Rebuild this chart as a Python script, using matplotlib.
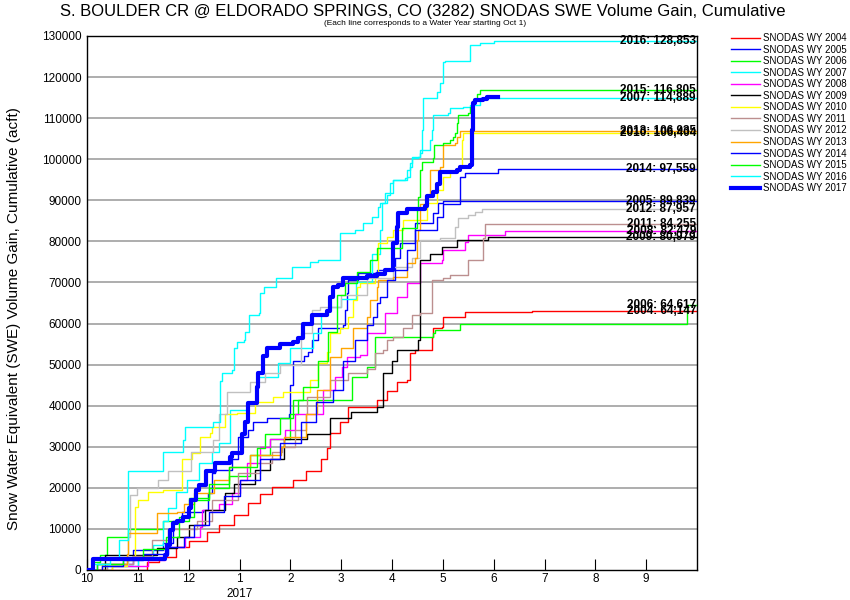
import matplotlib
matplotlib.use("Agg")
import matplotlib.pyplot as plt

plt.rcParams['font.family'] = ['Liberation Sans', 'DejaVu Sans']

# x = months since Oct 1 of the water year, y = cumulative SWE volume gain (acft)
MONTH_LABELS = ['10', '11', '12', '1', '2', '3', '4', '5', '6', '7', '8', '9']

wy2004_x = [0, 1.08, 1.18, 1.41, 1.75, 2.0, 2.36, 2.6, 2.9, 3.17, 3.4, 3.64, 4.05, 4.3, 4.6, 4.72, 4.78,
            4.98, 5.13, 5.71, 5.9, 6.10, 6.30, 6.35, 6.45, 6.75, 6.79, 6.81, 6.98, 7.00, 7.44, 8.75, 12]
wy2004_y = [0, 0, 2000, 3200, 5500, 7000, 9200, 11000, 13500, 16300, 18500, 20200, 21900, 24000, 27000,
            29700, 33400, 36000, 39700, 41400, 43500, 45800, 46200, 52800, 53500, 53500, 56700, 58900,
            59100, 61600, 62800, 63000, 63000]

wy2005_x = [0, 0.2, 0.9, 1.5, 1.69, 1.87, 2.28, 2.38, 2.46, 2.52, 2.85, 2.97, 3.17, 3.26, 3.54, 3.98, 4.0,
            4.05, 4.27, 4.35, 4.43, 4.54, 5.04, 5.08, 5.12, 5.14, 5.33, 5.7, 6.06, 6.16, 6.41, 6.45, 6.79,
            6.81, 6.91, 7.0, 12]
wy2005_y = [0, 1500, 4900, 6600, 12000, 14000, 14600, 18700, 23600, 24300, 27000, 32400, 34000, 36000,
            37000, 38000, 45000, 51000, 52000, 53000, 56000, 59000, 59700, 63300, 67400, 70600, 72300,
            73000, 76000, 79600, 79600, 84500, 84500, 87000, 89300, 89839, 89839]

wy2006_x = [0, 0.1, 0.25, 0.39, 0.81, 1.5, 2.0, 2.4, 2.8, 3.2, 3.6, 4.0, 4.15, 5.15, 5.22, 5.5, 5.67,
            6.8, 6.85, 7.34, 11.71, 11.8, 12]
wy2006_y = [0, 2000, 3600, 8000, 10000, 12000, 17500, 20000, 23000, 28000, 32000, 38000, 41400, 41400,
            47000, 49400, 56700, 57700, 58400, 59900, 59900, 64617, 64617]

wy2007_x = [0, 0.4, 1.0, 1.3, 1.5, 1.6, 1.75, 1.97, 2.2, 2.45, 2.6, 2.81, 3.15, 3.35, 3.75, 4.0, 4.45,
            4.6, 4.75, 5.0, 5.3, 5.6, 5.76, 5.80, 5.90, 5.96, 6.02, 6.26, 6.30, 6.35, 6.39, 6.51, 6.55,
            6.75, 6.79, 6.81, 7.10, 7.14, 7.40, 7.53, 7.73, 12]
wy2007_y = [0, 1000, 3000, 6000, 12000, 15000, 19000, 22000, 26000, 28700, 31000, 39000, 41000, 47000,
            50400, 54000, 57700, 62000, 64000, 66000, 70000, 77000, 82800, 89300, 91300, 94200, 95000,
            95400, 97400, 99000, 100300, 100500, 102200, 104600, 107000, 110700, 111200, 112400,
            112700, 113200, 114889, 114889]

wy2008_x = [0, 0.5, 1.2, 1.53, 1.93, 2.22, 2.27, 2.6, 2.85, 3.0, 3.15, 3.4, 3.6, 3.9, 4.1, 4.64, 4.88,
            5.02, 5.12, 5.37, 5.51, 5.86, 6.10, 6.30, 6.55, 6.98, 7.00, 7.44, 7.50, 8.18, 8.22, 12]
wy2008_y = [0, 1000, 2500, 5600, 8000, 10500, 14600, 16000, 18700, 22000, 26000, 30000, 32000, 34000,
            38000, 43800, 47000, 49400, 51800, 52300, 57700, 62500, 66400, 69800, 74700, 75500, 77900,
            79800, 81500, 81500, 82479, 82479]

wy2009_x = [0, 0.35, 1.38, 1.77, 2.0, 2.32, 2.72, 2.9, 3.31, 3.6, 3.87, 4.33, 4.78, 5.2, 5.71, 5.82,
            6.0, 6.10, 6.51, 6.55, 6.75, 6.98, 7.28, 7.87, 7.89, 12]
wy2009_y = [0, 3600, 5400, 8000, 11000, 14600, 18700, 21000, 24300, 27000, 32000, 33000, 37000, 38500,
            39700, 48000, 51000, 53500, 56000, 75500, 77000, 78600, 80300, 80300, 80979, 80979]

wy2010_x = [0, 0.5, 0.78, 0.94, 1.0, 1.2, 1.49, 1.87, 2.07, 2.22, 2.42, 2.46, 2.71, 2.95, 3.30, 3.66,
            3.86, 4.39, 4.54, 4.72, 4.78, 4.98, 5.13, 5.23, 5.31, 5.37, 5.67, 5.73, 5.90, 6.02, 6.22,
            6.69, 6.89, 7.00, 7.14, 7.30, 7.38, 7.40, 12]
wy2010_y = [0, 1000, 2400, 15300, 17000, 19000, 19500, 27000, 28500, 32400, 33400, 34800, 38000, 38200,
            41000, 42000, 43300, 46200, 50400, 53000, 57700, 59000, 61600, 65700, 68900, 69800, 71300,
            79600, 81000, 82800, 85200, 89300, 92500, 95700, 97000, 98000, 104600, 106404, 106404]

wy2011_x = [0, 0.4, 0.9, 1.28, 1.6, 2.17, 2.46, 2.97, 3.4, 3.64, 3.84, 4.1, 4.3, 4.33, 4.78, 5.13, 5.51,
            5.67, 5.82, 5.90, 6.02, 6.22, 6.39, 6.55, 6.79, 7.00, 7.14, 7.50, 7.79, 7.83, 12]
wy2011_y = [0, 1500, 3500, 7300, 10000, 12000, 17000, 23600, 26000, 28700, 30000, 34000, 38000, 42000,
            46200, 48000, 49000, 52800, 53500, 56000, 56700, 59000, 62000, 62500, 70600, 71000, 71800,
            75500, 80800, 84255, 84255]

wy2012_x = [0, 0.3, 0.8, 0.84, 0.98, 1.4, 1.6, 2.05, 2.48, 2.6, 2.75, 3.2, 3.5, 3.8, 4.2, 4.43, 4.58,
            5.0, 5.5, 6.02, 6.39, 6.55, 6.94, 7.24, 7.30, 7.50, 7.63, 7.77, 12]
wy2012_y = [0, 1500, 8000, 18300, 20000, 22000, 24000, 28700, 31600, 38000, 43300, 45800, 48000, 50000,
            57700, 63300, 64000, 67000, 71000, 73700, 76000, 80300, 80800, 83500, 85700, 86400, 87100,
            87957, 87957]

wy2013_x = [0, 0.3, 0.78, 0.8, 1.38, 1.77, 1.9, 2.1, 2.5, 2.8, 3.2, 3.82, 3.88, 4.3, 4.52, 4.78, 5.0,
            5.23, 5.51, 5.57, 5.71, 5.73, 6.02, 6.22, 6.30, 6.45, 6.49, 6.51, 6.55, 6.69, 6.75, 6.94,
            7.00, 7.24, 7.28, 7.34, 12]
wy2013_y = [0, 1500, 4000, 9000, 13900, 14000, 16000, 18700, 22000, 25000, 28000, 30000, 32400, 38000,
            43800, 51800, 54000, 59000, 61600, 65700, 69000, 70600, 71300, 71300, 74700, 76000, 80300,
            82800, 89000, 90800, 97400, 98000, 103400, 104000, 105400, 106935, 106935]

wy2014_x = [0, 0.3, 0.7, 1.1, 1.6, 1.9, 2.1, 2.4, 2.7, 3.0, 3.4, 3.8, 4.2, 4.5, 4.84, 5.04, 5.27, 5.51,
            5.63, 5.71, 5.76, 5.90, 6.06, 6.30, 6.45, 6.85, 6.89, 7.0, 7.32, 7.34, 7.44, 8.09, 12]
wy2014_y = [0, 1000, 2500, 4000, 5500, 8000, 11000, 14000, 18000, 22000, 27000, 31000, 36000, 41000,
            43800, 51000, 56000, 59600, 61600, 65000, 66400, 70600, 73000, 78000, 82800, 82800, 86000,
            89000, 89000, 95700, 96600, 97559, 97559]

wy2015_x = [0, 0.2, 0.7, 1.1, 1.55, 1.8, 2.1, 2.4, 2.8, 3.34, 3.5, 3.8, 4.05, 4.25, 4.54, 4.75, 4.92,
            5.08, 5.31, 5.57, 5.70, 6.2, 6.49, 6.51, 6.55, 6.59, 6.81, 6.83, 7.00, 7.14, 7.20, 7.24,
            7.28, 7.30, 7.50, 7.53, 7.59, 7.67, 7.73, 12]
wy2015_y = [0, 1500, 3000, 5000, 8000, 13000, 17000, 21000, 25000, 29700, 33000, 37000, 41400, 44500,
            51000, 58000, 67000, 69800, 72500, 75500, 78400, 83200, 87600, 90800, 97400, 99300, 100300,
            103400, 104000, 104600, 105400, 106300, 108800, 110700, 111200, 112700, 114400, 116000,
            116805, 116805]

wy2016_x = [0, 0.1, 0.45, 0.62, 0.81, 1.50, 1.89, 1.93, 2.48, 2.62, 2.66, 2.85, 2.89, 2.95, 3.09, 3.11,
            3.19, 3.38, 3.40, 3.48, 3.72, 4.03, 4.39, 4.54, 4.98, 5.27, 5.43, 5.61, 5.72, 5.76, 5.86,
            6.02, 6.30, 6.35, 6.39, 6.55, 6.59, 6.61, 6.85, 6.89, 6.94, 7.00, 7.04, 7.50, 7.53, 7.73,
            8.0, 12]
wy2016_y = [0, 1500, 3000, 7300, 24000, 28700, 31600, 34800, 36000, 46000, 48000, 48700, 54000, 55500,
            56000, 58000, 62000, 62500, 67400, 69000, 71000, 73700, 75000, 75400, 82000, 82800, 84500,
            86000, 88400, 89300, 91800, 95000, 95700, 98000, 100500, 101500, 107000, 115000, 115000,
            116300, 118500, 123600, 124000, 124000, 127800, 128300, 128853, 128853]

wy2017_x = [0, 0.12, 1.53, 1.57, 1.63, 1.69, 1.77, 1.88, 2.0, 2.05, 2.14, 2.2, 2.34, 2.52, 2.81, 2.85,
            3.05, 3.11, 3.17, 3.34, 3.36, 3.46, 3.54, 3.80, 4.05, 4.15, 4.25, 4.43, 4.72, 4.78, 4.84,
            4.94, 5.04, 5.51, 5.71, 5.86, 6.02, 6.10, 6.12, 6.30, 6.65, 6.69, 6.81, 6.89, 6.94, 7.28,
            7.34, 7.53, 7.57, 7.59, 7.63, 7.79, 7.87, 8.09]
wy2017_y = [0, 2700, 3600, 6000, 9700, 11400, 12000, 13000, 15000, 17000, 19500, 20700, 24000, 26000,
            27500, 28500, 33000, 36000, 40600, 44500, 48000, 52000, 54000, 55000, 55500, 56500, 60000,
            62000, 63000, 66500, 69000, 69500, 71000, 71500, 72000, 73000, 79500, 83500, 87000, 88000,
            88500, 91000, 92000, 94000, 97000, 97400, 98000, 98600, 107000, 113700, 114400, 114600,
            115100, 115100]

years = [2004, 2005, 2006, 2007, 2008, 2009, 2010, 2011, 2012, 2013, 2014, 2015, 2016, 2017]
xs = [wy2004_x, wy2005_x, wy2006_x, wy2007_x, wy2008_x, wy2009_x, wy2010_x, wy2011_x, wy2012_x,
      wy2013_x, wy2014_x, wy2015_x, wy2016_x, wy2017_x]
ys = [wy2004_y, wy2005_y, wy2006_y, wy2007_y, wy2008_y, wy2009_y, wy2010_y, wy2011_y, wy2012_y,
      wy2013_y, wy2014_y, wy2015_y, wy2016_y, wy2017_y]
colors = ['#FF0000', '#0000FF', '#00FF00', '#00FFFF', '#FF00FF', '#000000', '#FFFF00', '#BC8F8F',
          '#C0C0C0', '#FFA500', '#0000FF', '#00FF00', '#00FFFF', '#0000FF']
end_labels = ['2004: 64,147', '2005: 89,839', '2006: 64,617', '2007: 114,889', '2008: 82,479',
              '2009: 80,979', '2010: 106,404', '2011: 84,255', '2012: 87,957', '2013: 106,935',
              '2014: 97,559', '2015: 116,805', '2016: 128,853', None]

fig = plt.figure(figsize=(8.5, 6), dpi=100)
ax = fig.add_axes([87 / 850, 30 / 600, 610 / 850, 534 / 600])

for yv in range(10000, 130000, 10000):
    ax.axhline(yv, color='#A0A0A0', lw=1.2, zorder=0)

for yr, x, y, c, lab in zip(years, xs, ys, colors, end_labels):
    lw = 3 if yr == 2017 else 1
    ax.step(x, y, where='post', color=c, lw=lw, label='SNODAS WY %d' % yr,
            zorder=3 if yr == 2017 else 2)
    if lab:
        ax.text(11.98, y[-1], lab, ha='right', va='center', fontsize=8.5,
                fontweight='bold', color='black', zorder=4)

ax.set_xlim(0, 12)
ax.set_ylim(0, 130000)
ax.set_xticks(range(12))
ax.set_xticklabels(MONTH_LABELS, fontsize=8.5)
ax.set_yticks(range(0, 130001, 10000))
ax.set_yticklabels([str(v) for v in range(0, 130001, 10000)], fontsize=8.5)
ax.tick_params(axis='x', direction='in', length=8, pad=2)
ax.tick_params(axis='y', length=0, pad=4)
ax.text(3, -0.033, '2017', transform=ax.get_xaxis_transform(), ha='center', va='top', fontsize=8.5)

for s in ax.spines.values():
    s.set_color('black')
    s.set_linewidth(1)

ax.set_ylabel('Snow Water Equivalent (SWE) Volume Gain, Cumulative (acft)', fontsize=11)
ax.yaxis.set_label_coords(-0.108, 0.47)
fig.text(0.497, 1 - 4 / 600, 'S. BOULDER CR @ ELDORADO SPRINGS, CO (3282) SNODAS SWE Volume Gain, Cumulative',
         ha='center', va='top', fontsize=12)
fig.text(0.5, 1 - 20 / 600, '(Each line corresponds to a Water Year starting Oct 1)',
         ha='center', va='top', fontsize=6)

fig.legend(loc='upper left', bbox_to_anchor=(731 / 850, 1 - 33 / 600), frameon=False, fontsize=7,
           handlelength=3.0, labelspacing=0.16, handletextpad=0.3, borderaxespad=0, borderpad=0)

fig.savefig('out.png', dpi=100)
